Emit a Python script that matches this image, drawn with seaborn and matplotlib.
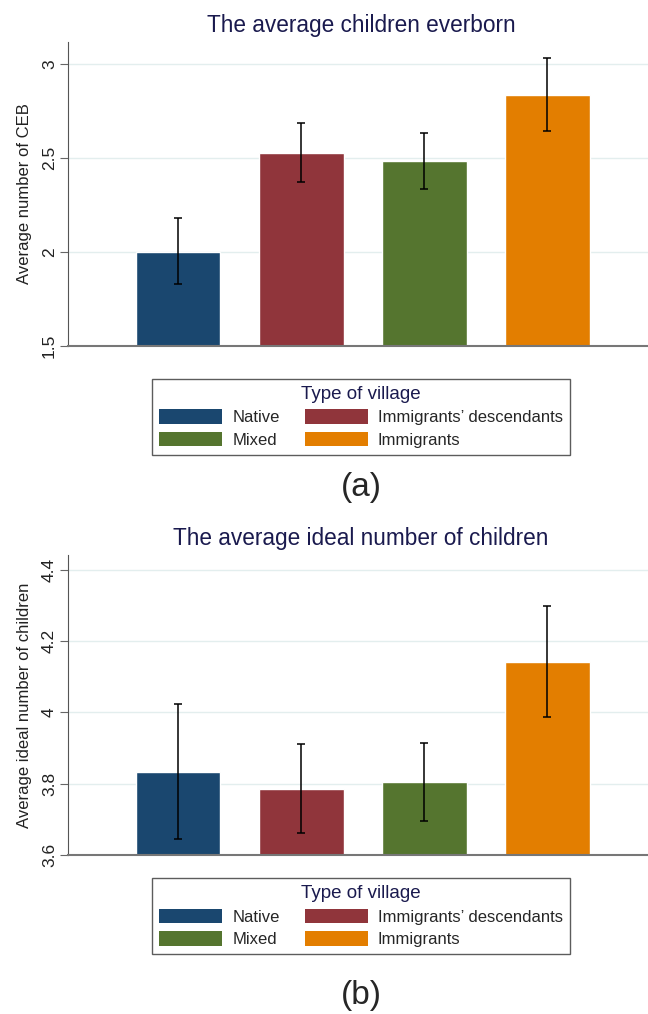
import matplotlib
matplotlib.use('Agg')
import matplotlib.pyplot as plt
import matplotlib.patches as mpatches
import seaborn as sns
import pandas as pd
import numpy as np

# Data
villages = ['Native', "Immigrants\u2019 descendants", 'Mixed', 'Immigrants']
colors = ['#1a476f', '#90353b', '#55752f', '#e37e00']

ceb_mean = [2.00, 2.527, 2.484, 2.838]
ceb_low = [1.828, 2.372, 2.335, 2.644]
ceb_high = [2.180, 2.690, 2.633, 3.033]

ideal_mean = [3.834, 3.786, 3.804, 4.141]
ideal_low = [3.645, 3.662, 3.696, 3.986]
ideal_high = [4.025, 3.912, 3.915, 4.298]

sns.set_style('white')
plt.rcParams['font.family'] = ['Liberation Sans', 'DejaVu Sans']

fig = plt.figure(figsize=(6.48, 10.14), dpi=100)


def panel(rect, means, lows, highs, title, ylabel, yticks, ylim, tag, leg_y, tag_y):
    ax = fig.add_axes(rect)
    df = pd.DataFrame({'village': villages, 'value': means})
    sns.barplot(data=df, x='village', y='value', hue='village', order=villages,
                palette=dict(zip(villages, colors)), width=0.69, saturation=1,
                legend=False, ax=ax)
    xs = np.arange(len(villages))
    m = np.array(means)
    yerr = [m - np.array(lows), np.array(highs) - m]
    ax.errorbar(xs, m, yerr=yerr, fmt='none', ecolor='black', elinewidth=1.1,
                capsize=3, capthick=1.1)
    ax.set_ylim(*ylim)
    ax.set_xlim(-0.894, 3.82)
    ax.set_yticks(yticks)
    ax.set_yticklabels([f'{t:g}' for t in yticks], rotation=90, va='center',
                       fontsize=12.5, color='#222222')
    ax.tick_params(axis='y', length=5.5, width=0.8, color='#666666', left=True, pad=2.5)
    ax.set_xticks([])
    ax.set_xlabel('')
    ax.set_ylabel(ylabel, fontsize=12, color='#222222', labelpad=7)
    ax.grid(axis='y', color='#e3eeee', linewidth=1)
    ax.set_axisbelow(True)
    for s in ['top', 'right']:
        ax.spines[s].set_visible(False)
    ax.spines['left'].set_color('#555555')
    ax.spines['bottom'].set_color('#777777')
    ax.spines['bottom'].set_linewidth(1.5)
    ax.set_title(title, fontsize=16.3, color='#1a1a4e', pad=7, x=0.505)

    order = [0, 2, 1, 3]
    handles = [mpatches.Patch(facecolor=colors[i], edgecolor='none', label=villages[i])
               for i in order]
    leg = fig.legend(handles=handles, loc='center', bbox_to_anchor=(0.557, leg_y),
                     ncol=2, title='Type of village', fontsize=12,
                     title_fontsize=13.5, handlelength=3.8, handleheight=0.95,
                     columnspacing=1.5, handletextpad=0.6, labelspacing=0.4,
                     borderpad=0.42, borderaxespad=0, fancybox=False, frameon=True)
    leg.get_frame().set_edgecolor('#333333')
    leg.get_frame().set_linewidth(1.0)
    leg.get_title().set_color('#1a1a4e')
    fig.text(0.557, tag_y, tag, ha='center', va='center', fontsize=24)
    return ax


panel([0.105, 0.6588, 0.895, 0.2998], ceb_mean, ceb_low, ceb_high,
      'The average children everborn', 'Average number of CEB',
      [1.5, 2, 2.5, 3], (1.5, 3.12), '(a)', 0.589, 0.519)
panel([0.105, 0.1568, 0.895, 0.2959], ideal_mean, ideal_low, ideal_high,
      'The average ideal number of children', 'Average ideal number of children',
      [3.6, 3.8, 4.0, 4.2, 4.4], (3.6, 4.442), '(b)', 0.0966, 0.0187)

fig.savefig('out.png', dpi=100)
